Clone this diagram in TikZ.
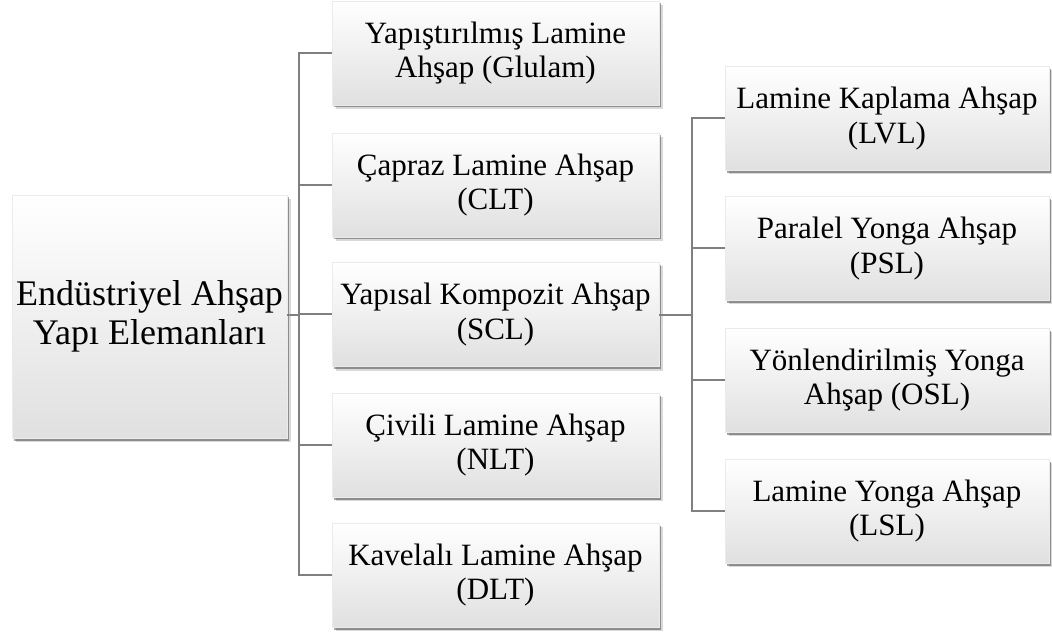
\documentclass[tikz,border=0pt]{standalone}
\usepackage{fontspec}
\setmainfont{Liberation Serif}
\usetikzlibrary{shadows}
\definecolor{linegray}{HTML}{808080}
\definecolor{boxbot}{HTML}{E0E0E0}
\tikzset{
  box/.style={rectangle, inner sep=0pt, align=center,
    top color=white, bottom color=boxbot, draw=black!8, line width=0.4pt,
    drop shadow={shadow xshift=3.5pt, shadow yshift=-4pt, fill=black, opacity=0.15},
    drop shadow={shadow xshift=2pt, shadow yshift=-2.5pt, fill=black, opacity=0.35},
    font=\fontsize{31}{34.5}\selectfont},
  midbox/.style={box, minimum width=327pt, minimum height=104pt},
  rightbox/.style={box, minimum width=324pt, minimum height=104pt},
  rootbox/.style={box, minimum width=275pt, minimum height=243pt,
    font=\fontsize{36}{39.5}\selectfont},
  conn/.style={draw=linegray, line width=2pt}
}
\begin{document}
\begin{tikzpicture}[x=1pt,y=-1pt]
\useasboundingbox (0,0) rectangle (1052,636);
\node[rootbox] (root) at (149.5,316.5) {Endüstriyel Ahşap\\Yapı Elemanları};
\node[midbox] (m1) at (495.5,53) {Yapıştırılmış Lamine\\Ahşap (Glulam)};
\node[midbox] (m2) at (495.5,185) {Çapraz Lamine Ahşap\\(CLT)};
\node[midbox] (m3) at (495.5,314.5) {Yapısal Kompozit Ahşap\\(SCL)};
\node[midbox] (m4) at (495.5,445) {Çivili Lamine Ahşap\\(NLT)};
\node[midbox] (m5) at (495.5,575) {Kavelalı Lamine Ahşap\\(DLT)};
\node[rightbox] (r1) at (887,118.5) {Lamine Kaplama Ahşap\\(LVL)};
\node[rightbox] (r2) at (887,248.5) {Paralel Yonga Ahşap\\(PSL)};
\node[rightbox] (r3) at (887,380) {Yönlendirilmiş Yonga\\Ahşap (OSL)};
\node[rightbox] (r4) at (887,511) {Lamine Yonga Ahşap\\(LSL)};
\coordinate (t1) at (299,315);
\coordinate (t2) at (692,315);
\draw[conn] (root.east |- t1) -- (t1);
\draw[conn] (m1.west) -- (m1.west -| t1) -- (m5.west -| t1) -- (m5.west);
\foreach \n in {m2,m3,m4} \draw[conn] (\n.west) -- (\n.west -| t1);
\draw[conn] (m3.east |- t2) -- (t2);
\draw[conn] (r1.west) -- (r1.west -| t2) -- (r4.west -| t2) -- (r4.west);
\foreach \n in {r2,r3} \draw[conn] (\n.west) -- (\n.west -| t2);
\end{tikzpicture}
\end{document}
